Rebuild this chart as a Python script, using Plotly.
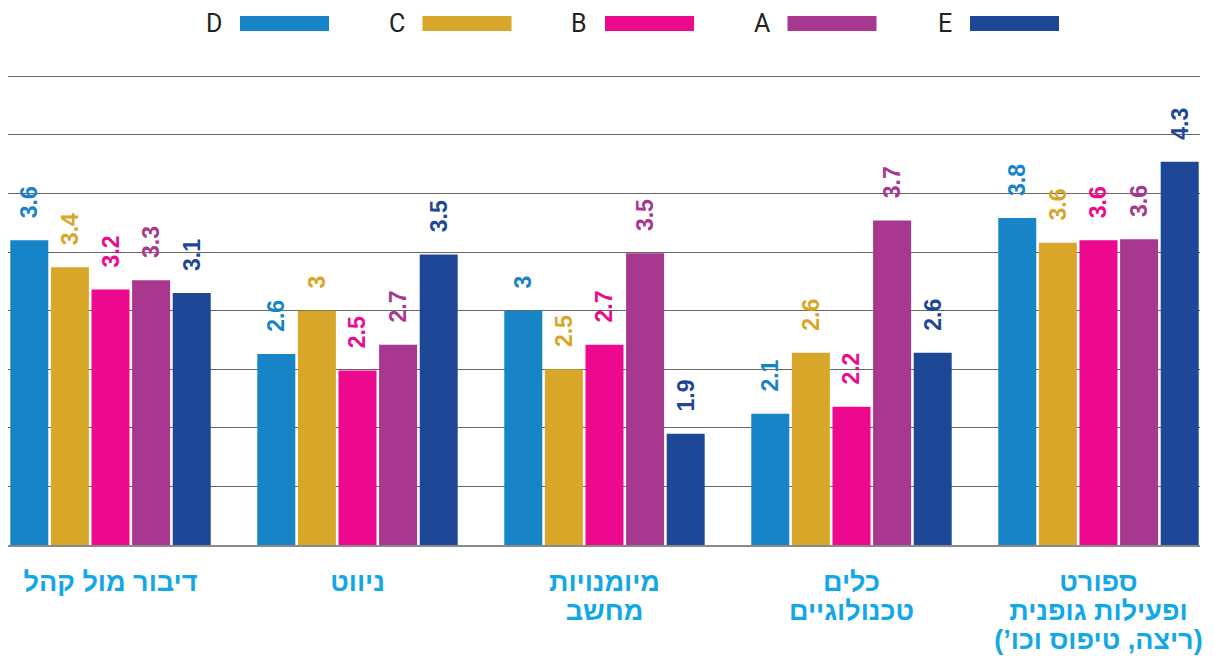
import plotly.graph_objects as go

RLM = "\u200f"

# Categories (left to right as displayed); each list item is one line of the label
categories = [
    ["דיבור מול קהל"],
    ["ניווט"],
    ["מיומנויות", "מחשב"],
    ["כלים", "טכנולוגיים"],
    ["ספורט", "ופעילות גופנית", "(ריצה, טיפוס וכו’)"],
]

series_names = ["D", "C", "B", "A", "E"]
series_colors = ["#1784C7", "#D8A629", "#EC098D", "#A8378F", "#1F4797"]

# Bar heights
values_D = [3.60, 2.63, 3.00, 2.12, 3.79]
values_C = [3.37, 3.00, 2.50, 2.64, 3.58]
values_B = [3.18, 2.49, 2.71, 2.18, 3.60]
values_A = [3.26, 2.71, 3.49, 3.77, 3.61]
values_E = [3.15, 3.48, 1.95, 2.64, 4.27]

# Printed labels
labels_D = ["3.6", "2.6", "3", "2.1", "3.8"]
labels_C = ["3.4", "3", "2.5", "2.6", "3.6"]
labels_B = ["3.2", "2.5", "2.7", "2.2", "3.6"]
labels_A = ["3.3", "2.7", "3.5", "3.7", "3.6"]
labels_E = ["3.1", "3.5", "1.9", "2.6", "4.3"]

all_values = [values_D, values_C, values_B, values_A, values_E]
all_labels = [labels_D, labels_C, labels_B, labels_A, labels_E]

# page has an 8px body margin; figure is placed at (8, 8)
OFF = 8
W, H = 1214 - OFF, 658 - OFF
ML, MR, MT, MB = 0, 14, 74 - OFF, 113
PW = W - ML - MR
PH = H - MT - MB

NB = "\u00a0"
fig = go.Figure()
for name, color, vals, labs in zip(series_names, series_colors, all_values, all_labels):
    fig.add_trace(go.Bar(
        name=name,
        x=list(range(len(categories))),
        y=vals,
        marker=dict(color=color, line=dict(width=0)),
        text=[NB * 3 + "<b>" + t + "</b>" for t in labs],
        textposition="outside",
        textangle=-90,
        constraintext="none",
        cliponaxis=False,
        textfont=dict(family="Liberation Sans, Arial, sans-serif", size=23, color=color),
        showlegend=False,
        hoverinfo="skip",
    ))

# Custom legend (letter then swatch), positions given in page pixels
def px_to_paper_x(px):
    return (px - OFF - ML) / PW

def px_to_paper_y(py):
    return (OFF + H - MB - py) / PH

leg_x0, leg_pitch, sw_w = 240, 182.5, 89
sw_top, sw_bot = 16, 31
for k, (name, color) in enumerate(zip(series_names, series_colors)):
    sx = leg_x0 + k * leg_pitch
    fig.add_shape(type="rect", xref="paper", yref="paper",
                  x0=px_to_paper_x(sx), x1=px_to_paper_x(sx + sw_w),
                  y0=px_to_paper_y(sw_bot), y1=px_to_paper_y(sw_top),
                  fillcolor=color, line=dict(width=0), layer="above")
    fig.add_annotation(xref="paper", yref="paper",
                       x=px_to_paper_x(sx - 16), y=px_to_paper_y((sw_top + sw_bot) / 2),
                       text=name, showarrow=False, xanchor="right", yanchor="middle",
                       font=dict(family="Roboto, Liberation Sans, sans-serif", size=25, color="#222222"))

ticktext = [
    "<br>".join('<span style="font-size:27px"><b>' + RLM + line + RLM + "</b></span>" for line in c)
    for c in categories
]

fig.update_layout(
    template="none",
    width=W, height=H,
    margin=dict(l=ML, r=MR, t=MT, b=MB, autoexpand=False),
    paper_bgcolor="white", plot_bgcolor="white",
    barmode="group", bargap=0.178, bargroupgap=0.064,
    showlegend=False,
    xaxis=dict(
        automargin=False,
        tickmode="array",
        tickvals=list(range(len(categories))),
        ticktext=ticktext,
        range=[-0.415, 4.411],
        showgrid=False, zeroline=False,
        showline=True, linecolor="#8a8a8a", linewidth=2,
        ticks="outside", ticklen=18, tickcolor="rgba(0,0,0,0)",
        tickfont=dict(family="Liberation Sans, Arial, sans-serif", size=22, color="#12A7E6"),
        fixedrange=True,
    ),
    yaxis=dict(
        automargin=False,
        range=[1.0, 5.02],
        tickmode="linear", tick0=1, dtick=0.5,
        showticklabels=False, ticks="",
        showgrid=True, gridcolor="#666666", gridwidth=1,
        zeroline=False, showline=False,
        fixedrange=True,
    ),
)

fig.write_html("out.html")
